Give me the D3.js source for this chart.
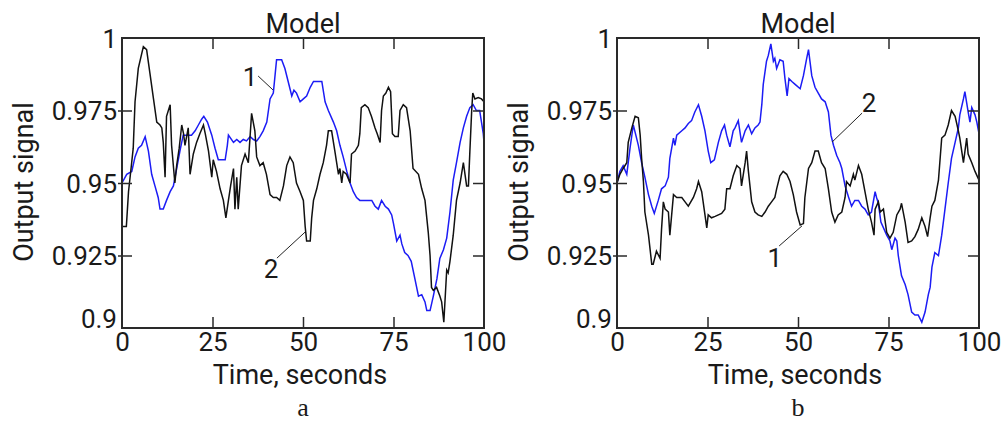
<!DOCTYPE html>
<html>
<head>
<meta charset="utf-8">
<script src="https://cdn.jsdelivr.net/npm/d3@7/dist/d3.min.js"></script>
<style>
  html, body { margin: 0; padding: 0; background: #fff; }
  svg { display: block; }
  text { font-family: Roboto, "Open Sans", sans-serif; fill: #1a1a1a; }
</style>
</head>
<body>
<svg id="chart" width="1007" height="421"></svg>
<script>
// ---------------- DATA ----------------
const xTicks = [0, 25, 50, 75, 100];
const yTicks = [0.9, 0.925, 0.95, 0.975, 1];
const yTickLabels = ["0.9", "0.925", "0.95", "0.975", "1"];
const titleText = "Model";
const xTitle = "Time, seconds";
const yTitle = "Output signal";
const panelLetters = ["a", "b"];

// Panel a, curve 1 (blue) [time, value]
const aBlue = [[0,.950],[1.3,.953],[2.7,.954],[3.6,.959],[4.5,.962],[5.4,.963],[6.4,.966],[7.3,.961],[8.2,.953],[9.1,.949],[10,.945],[10.5,.941],[11.4,.941],[12.3,.944],[13.3,.947],[14.2,.949],[15.1,.955],[16,.961],[16.9,.9665],[17.9,.9665],[19.2,.9665],[20.2,.968],[21.1,.970],[22,.972],[22.6,.973],[23.6,.971],[24.8,.9665],[25.7,.962],[26.6,.958],[27.5,.958],[28.5,.958],[29.1,.963],[29.4,.9665],[30.8,.964],[31.7,.965],[32.6,.964],[33.5,.965],[34.4,.9645],[35.4,.966],[36.3,.965],[37.2,.9645],[38.1,.966],[39,.968],[40,.971],[40.9,.979],[41.8,.981],[42.7,.9925],[44.1,.9925],[45,.9895],[45.9,.985],[46.9,.980],[47.5,.982],[48.2,.981],[49.2,.978],[50.1,.979],[51,.980],[52,.983],[52.9,.985],[54.2,.985],[55.2,.985],[56.1,.978],[57,.975],[58.4,.971],[59.3,.968],[60.2,.963],[61.1,.959],[62.1,.954],[63,.950],[63.9,.947],[64.8,.945],[65.7,.944],[67.6,.944],[69,.944],[69.9,.942],[70.8,.941],[71.7,.944],[72.7,.942],[73.6,.941],[74.5,.939],[75,.936],[75.9,.930],[76.8,.932],[77.3,.929],[78.1,.926],[79,.925],[79.9,.923],[80.9,.917],[81.9,.911],[82.8,.9115],[83.7,.909],[84.2,.906],[85.1,.906],[86,.911],[87,.917],[87.8,.924],[88.8,.927],[89.7,.931],[90.6,.940],[91.5,.951],[92.4,.957],[93.4,.964],[94.3,.969],[95.2,.973],[96.1,.976],[97,.977],[97.9,.975],[98.8,.975],[99.8,.967],[100,.964]];

// Panel a, curve 2 (black)
const aBlack = [[0,.935],[1.2,.935],[1.8,.947],[2.5,.955],[3.1,.962],[3.6,.978],[4.5,.9895],[5.9,.997],[6.8,.996],[7.7,.988],[8.7,.979],[9.6,.971],[10.5,.970],[11,.969],[11.4,.964],[11.9,.952],[12.3,.973],[13.3,.977],[13.7,.963],[14.6,.950],[15.1,.956],[15.8,.962],[16.5,.970],[17,.967],[17.4,.963],[18.3,.969],[18.8,.953],[19.7,.960],[20.6,.964],[21.5,.967],[22.5,.970],[23,.967],[23.9,.961],[24.8,.952],[25.2,.958],[26.1,.954],[27.1,.948],[28,.944],[28.7,.938],[29.4,.944],[30,.949],[30.8,.955],[31.2,.941],[31.7,.952],[32.1,.941],[33,.956],[34,.960],[34.9,.957],[35.8,.974],[36.7,.968],[37.2,.959],[38.1,.956],[39,.957],[39.9,.953],[40.9,.946],[41.8,.945],[42.7,.945],[43.6,.944],[44.6,.949],[45.5,.956],[46.4,.959],[47.3,.957],[48.2,.950],[49.2,.947],[50.1,.944],[50.6,.935],[51,.930],[52,.930],[52.4,.938],[52.9,.944],[53.8,.948],[54.7,.953],[55.6,.957],[56.5,.963],[57,.968],[57.9,.968],[58.8,.961],[59.8,.953],[60.2,.955],[60.7,.950],[61.1,.954],[62,.953],[63,.950],[63.4,.960],[64.4,.961],[65.3,.963],[65.7,.967],[66.1,.976],[67.1,.977],[68,.976],[68.9,.973],[69.9,.969],[70.5,.967],[71.3,.964],[71.7,.975],[72.2,.980],[72.9,.981],[73.6,.983],[74.2,.9815],[74.7,.967],[75.4,.966],[76.3,.966],[76.8,.975],[77.7,.977],[78.6,.976],[79.6,.968],[80.4,.955],[81.9,.953],[82.8,.948],[83.7,.944],[84.6,.933],[85.1,.925],[85.5,.914],[86,.913],[86.9,.914],[87.8,.911],[88.3,.909],[88.9,.902],[89.7,.920],[90.1,.919],[90.6,.923],[91.5,.932],[92.4,.944],[93.4,.950],[94.3,.957],[95.2,.949],[95.7,.949],[96.1,.961],[96.6,.975],[96.9,.981],[97.5,.979],[98.4,.9795],[99.3,.979],[100,.978]];

// Panel b, curve 2 (blue)
const bBlue = [[0,.950],[0.8,.954],[1.7,.956],[2.7,.953],[3.6,.962],[4.5,.970],[5.2,.9665],[5.9,.963],[6.8,.957],[7.7,.952],[8.7,.946],[9.6,.942],[10.3,.9395],[11.4,.944],[12.3,.948],[13.3,.949],[14.2,.952],[14.6,.9585],[15.6,.9655],[16,.963],[16.5,.9665],[17.9,.968],[18.8,.969],[19.7,.9705],[20.6,.9715],[21.5,.9745],[22.5,.977],[23.4,.973],[24.3,.968],[25.2,.961],[25.9,.957],[26.9,.958],[28,.964],[28.9,.968],[29.7,.970],[30.3,.9665],[31.2,.9625],[32.1,.968],[32.6,.969],[33.5,.9715],[34.4,.964],[35.4,.968],[36.3,.970],[37.2,.967],[38.1,.969],[39,.970],[39.5,.971],[40,.977],[40.4,.984],[41.3,.992],[41.8,.994],[42.5,.998],[43.2,.992],[43.6,.993],[44.1,.9895],[45,.9925],[45.9,.992],[46.4,.986],[47,.980],[47.5,.986],[48.3,.985],[49.2,.984],[50.6,.9825],[51.5,.987],[52.4,.993],[52.9,.996],[53.3,.992],[53.8,.987],[54.7,.983],[55.6,.981],[56.5,.979],[57.5,.978],[58.4,.9745],[59.1,.9665],[59.8,.963],[60.7,.9595],[61.6,.957],[62.1,.955],[63,.949],[64,.945],[64.8,.942],[65.7,.944],[66.7,.944],[67.6,.942],[68.5,.941],[69.4,.939],[70.3,.940],[71.3,.947],[71.7,.945],[72.2,.943],[72.9,.9365],[73.8,.934],[74.5,.932],[75.4,.930],[75.9,.927],[76.8,.931],[77.3,.930],[77.7,.925],[78.6,.918],[79.6,.915],[80.4,.9115],[81.4,.9055],[82.3,.9045],[83.2,.9045],[84.2,.902],[85.1,.9055],[86,.9115],[86.5,.914],[87,.921],[87.8,.926],[88.8,.925],[89.7,.932],[90.6,.941],[91.5,.950],[92.4,.9585],[93.4,.964],[94.3,.969],[94.7,.9735],[95.7,.979],[96.1,.9815],[97,.9745],[97.5,.971],[98,.976],[98.9,.9735],[99.4,.971],[100,.967]];

// Panel b, curve 1 (black)
const bBlack = [[0,.950],[0.8,.953],[1.7,.955],[2.7,.957],[3.1,.964],[4.1,.969],[5,.973],[5.9,.9725],[6.4,.9665],[6.8,.9585],[7.3,.9505],[7.7,.940],[8.7,.932],[9.6,.922],[10,.922],[10.9,.9265],[11.9,.924],[12.3,.934],[12.8,.9435],[13.3,.941],[14.2,.940],[14.6,.932],[15.6,.946],[16.5,.945],[17.9,.945],[18.8,.9435],[19.7,.942],[21.1,.945],[22,.948],[22.5,.9505],[23.4,.947],[24.3,.939],[24.8,.9345],[25.2,.939],[26.1,.938],[27.1,.9385],[28.9,.9395],[29.8,.941],[30.3,.948],[31.2,.948],[32.1,.9525],[33.1,.956],[34,.955],[34.4,.949],[35.4,.957],[35.8,.961],[36.3,.954],[37.2,.9435],[38.1,.940],[39,.939],[40,.9385],[40.9,.940],[41.8,.942],[42.7,.9435],[43.6,.945],[44.1,.948],[45,.9525],[45.9,.954],[46.9,.953],[47.8,.9505],[48.7,.946],[49.6,.940],[50.6,.9355],[51.5,.936],[51.9,.945],[52.9,.955],[53.8,.957],[54.7,.961],[55.6,.961],[56.5,.957],[57.5,.955],[58.4,.948],[59.3,.940],[60.2,.9365],[61.1,.939],[62.1,.940],[63,.945],[63.4,.9505],[64.4,.949],[65.3,.953],[65.7,.951],[66.7,.956],[67.6,.953],[68.5,.947],[69.4,.941],[70.3,.9365],[71,.932],[71.3,.941],[72.2,.9435],[72.7,.940],[73.6,.941],[74.5,.933],[75.4,.931],[76.3,.933],[77.3,.939],[78.2,.941],[78.6,.943],[79.6,.9365],[80.4,.9295],[81.4,.930],[82.3,.9315],[83.2,.934],[84.2,.938],[85.1,.935],[85.8,.9315],[86.5,.938],[87,.942],[87.8,.944],[88.8,.951],[89.7,.9655],[90.6,.9665],[91.5,.970],[92.4,.975],[93.4,.973],[94.3,.968],[94.7,.9655],[95.7,.957],[96.6,.9655],[97,.960],[98,.957],[98.9,.954],[100,.951]];

// Curve labels: [label, textTime, textValue, leaderFromTime, leaderFromValue, leaderToTime, leaderToValue]
const aLabels = [["1", 35.4, 0.9834, 37.6, 0.9869, 41.7, 0.9821], ["2", 41.2, 0.9172, 42.8, 0.9241, 50.6, 0.9331]];
const bLabels = [["2", 69.6, 0.9745, 67.7, 0.9741, 59.4, 0.9641], ["1", 43.6, 0.9210, 44.8, 0.9283, 51.1, 0.9352]];

// ---------------- DRAW ----------------
const svg = d3.select("#chart");
svg.append("rect").attr("width", 1007).attr("height", 421).attr("fill", "#fff");

const panels = [
  { left: 122, right: 484, blue: aBlue, black: aBlack, labels: aLabels, letter: panelLetters[0] },
  { left: 617, right: 979, blue: bBlue, black: bBlack, labels: bLabels, letter: panelLetters[1] }
];
const plotTop = 38, plotBottom = 328;
const BLUE = "#1c1cf5", BLACK = "#111", AXIS = "#2a2a2a";
const FONT = "Roboto, 'Open Sans', sans-serif";

panels.forEach(p => {
  const x = d3.scaleLinear().domain([0, 100]).range([p.left, p.right]);
  const y = d3.scaleLinear().domain([0.9, 1]).range([plotBottom, plotTop]);
  const g = svg.append("g");
  const cx = (p.left + p.right) / 2;

  const line = d3.line().x(d => x(d[0])).y(d => y(d[1]));
  g.append("path").datum(p.blue).attr("d", line)
    .attr("fill", "none").attr("stroke", BLUE).attr("stroke-width", 1.5);
  g.append("path").datum(p.black).attr("d", line)
    .attr("fill", "none").attr("stroke", BLACK).attr("stroke-width", 1.5);

  const styleAxis = sel => {
    sel.select(".domain").remove();
    sel.selectAll(".tick line").attr("stroke", AXIS).attr("stroke-width", 1.5);
    sel.selectAll(".tick text").attr("fill", "#1a1a1a")
      .style("font-family", FONT).style("font-size", "26px");
  };
  const inner = [25, 50, 75];
  const innerY = [0.925, 0.95, 0.975];

  const gb = g.append("g").attr("transform", `translate(0,${plotBottom})`)
    .call(d3.axisBottom(x).tickValues(xTicks).tickSizeInner(-11).tickSizeOuter(0).tickPadding(5));
  styleAxis(gb);
  gb.selectAll(".tick").filter(d => !inner.includes(d)).select("line").remove();

  const gt = g.append("g").attr("transform", `translate(0,${plotTop})`)
    .call(d3.axisTop(x).tickValues(inner).tickSizeInner(-11).tickSizeOuter(0).tickFormat(""));
  styleAxis(gt);

  const gl = g.append("g").attr("transform", `translate(${p.left},0)`)
    .call(d3.axisLeft(y).tickValues(yTicks).tickSizeInner(-10).tickSizeOuter(0).tickPadding(5)
      .tickFormat((d, i) => yTickLabels[i]));
  styleAxis(gl);
  gl.selectAll(".tick line").attr("x1", -4);
  gl.selectAll(".tick").filter(d => !innerY.includes(d)).select("line").remove();
  gl.selectAll(".tick text").attr("dy", d => d === 0.9 ? "-0.02em" : "0.35em");

  const gr = g.append("g").attr("transform", `translate(${p.right},0)`)
    .call(d3.axisRight(y).tickValues(innerY).tickSizeInner(-11).tickSizeOuter(0).tickFormat(""));
  styleAxis(gr);

  g.append("rect").attr("x", p.left).attr("y", plotTop)
    .attr("width", p.right - p.left).attr("height", plotBottom - plotTop)
    .attr("fill", "none").attr("stroke", AXIS).attr("stroke-width", 2);

  p.labels.forEach(l => {
    g.append("line").attr("x1", x(l[3])).attr("y1", y(l[4])).attr("x2", x(l[5])).attr("y2", y(l[6]))
      .attr("stroke", "#222").attr("stroke-width", 1);
    g.append("text").attr("x", x(l[1])).attr("y", y(l[2])).attr("text-anchor", "middle")
      .style("font-size", "26px").text(l[0]);
  });

  g.append("text").attr("x", cx).attr("y", 33).attr("text-anchor", "middle")
    .style("font-size", "27px").text(titleText);
  g.append("text").attr("x", cx - 3).attr("y", 383.5).attr("text-anchor", "middle")
    .style("font-size", "27px").text(xTitle);
  g.append("text").attr("transform", `translate(${p.left - 89},182) rotate(-90)`)
    .attr("text-anchor", "middle").style("font-size", "27px").text(yTitle);
  g.append("text").attr("x", cx).attr("y", 416).attr("text-anchor", "middle")
    .style("font-family", "'Liberation Serif', 'Times New Roman', serif").style("font-size", "26px")
    .text(p.letter);
});
</script>
</body>
</html>
